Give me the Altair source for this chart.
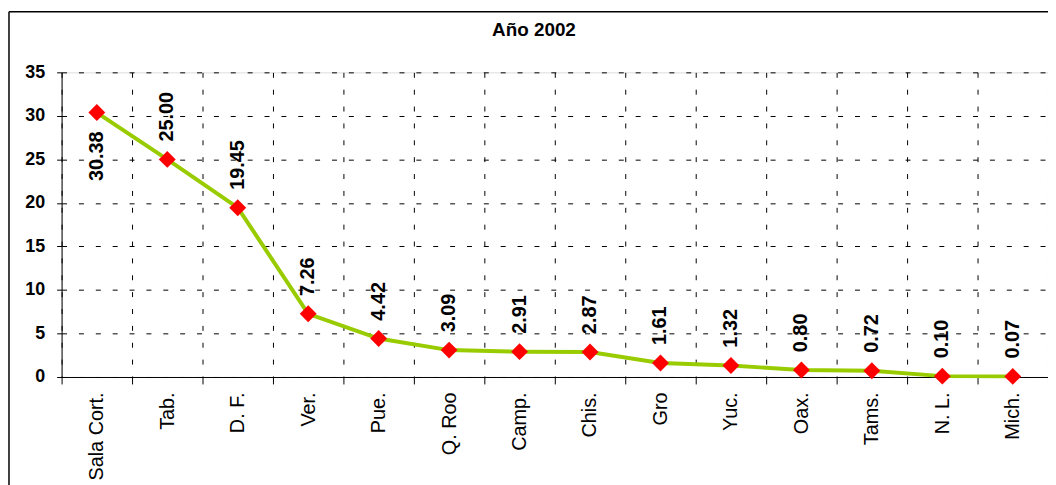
import altair as alt
import pandas as pd

categories = ["Sala Cort.", "Tab.", "D. F.", "Ver.", "Pue.", "Q. Roo", "Camp.",
              "Chis.", "Gro", "Yuc.", "Oax.", "Tams.", "N. L.", "Mich."]
values = [30.38, 25.00, 19.45, 7.26, 4.42, 3.09, 2.91, 2.87, 1.61, 1.32, 0.80, 0.72, 0.10, 0.07]
label_below = [True] + [False] * 13
y_ticks = [0, 5, 10, 15, 20, 25, 30, 35]
title_text = "Año 2002"

df = pd.DataFrame({"cat": categories, "val": values, "below": label_below})

W, H = 994, 307
FONT = "Liberation Sans"

x_enc = alt.X(
    "cat:N", sort=None, title=None,
    scale=alt.Scale(type="band", paddingInner=0, paddingOuter=0),
    axis=alt.Axis(labelAngle=-90, labelFontSize=20, labelFont=FONT, labelColor="black",
                  labelPadding=8, tickSize=7, tickBand="extent", grid=True,
                  gridDash=[5, 12], gridColor="black", gridWidth=1,
                  domainColor="black", tickColor="black"),
)
y_enc = alt.Y(
    "val:Q", title=None,
    scale=alt.Scale(domain=[0, 35], nice=False),
    axis=alt.Axis(values=y_ticks, labelFontSize=18, labelFont=FONT, labelFontWeight="bold",
                  labelColor="black", labelPadding=12, tickSize=5, grid=True,
                  gridDash=[5, 12], gridColor="black", gridWidth=1,
                  domainColor="black", tickColor="black"),
)

base = alt.Chart(df)

line = base.mark_line(color="#99CC00", strokeWidth=4).encode(x=x_enc, y=y_enc)
points = base.mark_point(shape="diamond", filled=True, color="#FF0000", size=290, opacity=1).encode(
    x=x_enc, y=y_enc)

labels_above = base.transform_filter("!datum.below").mark_text(
    angle=270, align="left", baseline="middle", dx=18, fontSize=20, fontWeight="bold",
    font=FONT, color="black").encode(x=x_enc, y=y_enc, text=alt.Text("val:Q", format=".2f"))
labels_below = base.transform_filter("datum.below").mark_text(
    angle=270, align="right", baseline="middle", dx=-19, fontSize=20, fontWeight="bold",
    font=FONT, color="black").encode(x=x_enc, y=y_enc, text=alt.Text("val:Q", format=".2f"))

frame_df = pd.DataFrame({"a": [0]})
left_border = alt.Chart(frame_df).mark_rule(color="black", strokeWidth=1.5).encode(
    x=alt.value(-53), y=alt.value(-61), y2=alt.value(H + 110))
top_border = alt.Chart(frame_df).mark_rule(color="black", strokeWidth=1.5).encode(
    x=alt.value(-53), x2=alt.value(W), y=alt.value(-61))
title_mark = alt.Chart(frame_df).mark_text(
    fontSize=19, font=FONT, fontWeight="bold", color="black", align="center", baseline="middle"
).encode(x=alt.value(W / 2 - 21), y=alt.value(-43), text=alt.value(title_text))

chart = alt.layer(line, points, labels_above, labels_below, left_border, top_border,
                  title_mark).properties(
    width=W, height=H,
    padding={"left": 54, "top": 63, "right": 0, "bottom": 107},
    autosize="none",
).configure_view(stroke="transparent").configure(background="white")

chart.save("out.html", embed_options={"renderer": "svg", "actions": False})
